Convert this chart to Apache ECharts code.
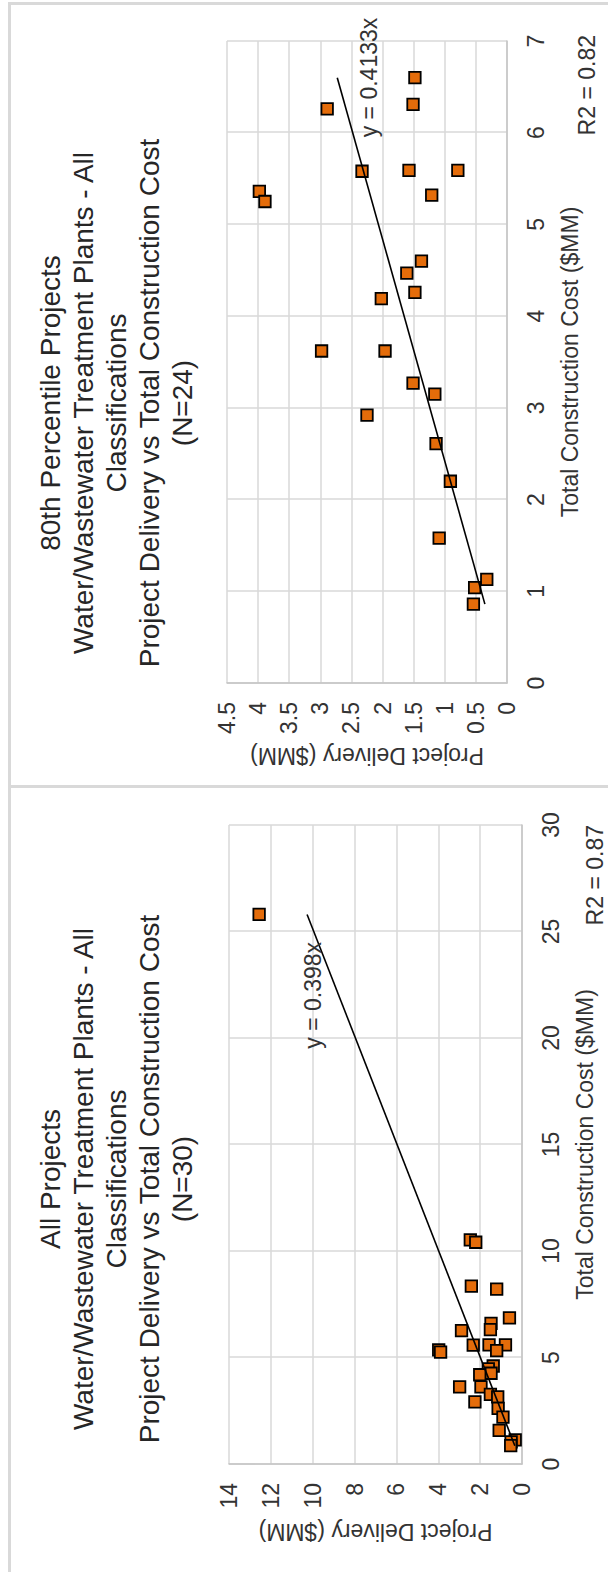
<!DOCTYPE html>
<html><head><meta charset="utf-8">
<script src="https://cdn.jsdelivr.net/npm/echarts@6/dist/echarts.min.js"></script>
<style>
html,body{margin:0;padding:0;background:#fff;width:608px;height:1572px;overflow:hidden;position:relative}
.box{position:absolute;transform-origin:0 0;}
.frame{position:absolute;background:#d9d9d9}
</style></head><body>
<div class="frame" style="left:8px;top:2px;width:3px;height:1570px"></div>
<div class="frame" style="left:8px;top:2px;width:600px;height:3px"></div>
<div class="frame" style="left:8px;top:785px;width:600px;height:3px"></div>
<div id="c1" class="box" style="left:0;top:0;width:786px;height:608px;transform:translate(0px,786px) rotate(-90deg)"></div>
<div id="c2" class="box" style="left:0;top:786px;width:786px;height:608px;transform:translate(0px,786px) rotate(-90deg)"></div>
<script>
// 80th percentile projects (N=24): total construction cost ($MM) and project delivery ($MM)
const cost80 = [6.60,6.31,6.26,5.58,5.59,5.59,5.36,5.25,5.32,4.60,4.47,4.26,4.19,3.62,3.62,3.27,3.15,2.92,2.61,2.20,1.58,1.13,1.04,0.86];
const delivery80 = [1.48,1.51,2.89,2.33,1.575,0.79,3.98,3.89,1.21,1.375,1.61,1.48,2.02,2.98,1.96,1.51,1.16,2.25,1.14,0.91,1.09,0.325,0.52,0.54];
// remaining projects, added for "All Projects" (N=30)
const costOther = [25.8,10.52,10.41,8.35,8.21,6.86];
const deliveryOther = [12.56,2.47,2.21,2.42,1.21,0.60];
const slope80 = 0.4133, slopeAll = 0.398;
const r2Text80 = 'R2 = 0.82', r2TextAll = 'R2 = 0.87';
const title80 = ['80th Percentile Projects','Water/Wastewater Treatment Plants - All','Classifications','Project Delivery vs Total Construction Cost','(N=24)'];
const titleAll = ['All Projects','Water/Wastewater Treatment Plants - All','Classifications','Project Delivery vs Total Construction Cost','(N=30)'];
const xTitle = 'Total Construction Cost ($MM)';
const yTitle = 'Project Delivery ($MM)';

const FF = '"Liberation Sans", Arial, sans-serif';
const TXT = '#333333';

function build(el, cfg){
  const chart = echarts.init(el, null, {renderer:'svg'});
  const pts = cfg.xs.map((x,i)=>[x, cfg.ys[i]]);
  const xmin = Math.min(...cfg.xs), xmax = Math.max(...cfg.xs);
  chart.setOption({
    backgroundColor:'transparent',
    animation:false,
    grid:cfg.grid,
    xAxis:{type:'value', min:0, max:cfg.xmax, interval:cfg.xint,
      axisLine:{show:true, lineStyle:{color:'#c4c4c4', width:1.5}},
      axisTick:{show:false},
      splitLine:{show:true, lineStyle:{color:'#d9d9d9', width:1.5}},
      axisLabel:{fontSize:23, color:TXT, fontFamily:FF, margin:17},
      name:xTitle, nameLocation:'middle', nameGap:51,
      nameTextStyle:{fontSize:23, color:TXT, fontFamily:FF}},
    yAxis:{type:'value', min:0, max:cfg.ymax, interval:cfg.yint,
      axisLine:{show:true, lineStyle:{color:'#c4c4c4', width:1.5}},
      axisTick:{show:false},
      splitLine:{show:true, lineStyle:{color:'#d9d9d9', width:1.5}},
      axisLabel:{fontSize:23, color:TXT, fontFamily:FF, margin:19},
      name:yTitle, nameLocation:'middle', nameGap:56,
      nameTextStyle:{fontSize:23, color:TXT, fontFamily:FF}},
    series:[
      {type:'scatter', data:pts, symbol:'rect', symbolSize:11.5, z:2,
        itemStyle:{color:'#E46C0A', borderColor:'#000', borderWidth:1.8, opacity:1}},
      {type:'line', data:[[xmin, cfg.slope*xmin],[xmax, cfg.slope*xmax]], symbol:'none', z:3,
        lineStyle:{color:'#000', width:1.6}}
    ]
  });
  const eqPos = chart.convertToPixel({gridIndex:0}, cfg.eqAt);
  chart.setOption({graphic:[
    {type:'text', x:cfg.titleX, y:cfg.titleTop, z:10,
      style:{text:cfg.title.join('\n'), align:'center', verticalAlign:'top', fontSize:28, lineHeight:33, fontFamily:FF, fill:'#262626'}},
    {type:'text', x:eqPos[0], y:eqPos[1], z:10,
      style:{text:'y = ' + cfg.slope + 'x', align:'left', verticalAlign:'middle', fontSize:23, fontFamily:FF, fill:TXT}},
    {type:'text', x:cfg.r2Pos[0], y:cfg.r2Pos[1], z:10,
      style:{text:cfg.r2, align:'right', verticalAlign:'middle', fontSize:23, fontFamily:FF, fill:TXT}}
  ]});
}

build(document.getElementById('c1'), {
  xs:cost80, ys:delivery80, slope:slope80, r2:r2Text80, title:title80,
  grid:{left:103, right:41, top:227, bottom:101},
  xmax:7, xint:1, ymax:4.5, yint:0.5,
  eqAt:[5.95, 2.22], r2Pos:[751, 587], titleX:383, titleTop:34
});
build(document.getElementById('c2'), {
  xs:cost80.concat(costOther), ys:delivery80.concat(deliveryOther), slope:slopeAll, r2:r2TextAll, title:titleAll,
  grid:{left:108, right:39, top:229, bottom:86},
  xmax:30, xint:5, ymax:14, yint:2,
  eqAt:[19.5, 10.0], r2Pos:[747, 595], titleX:393, titleTop:34
});
</script>
</body></html>
